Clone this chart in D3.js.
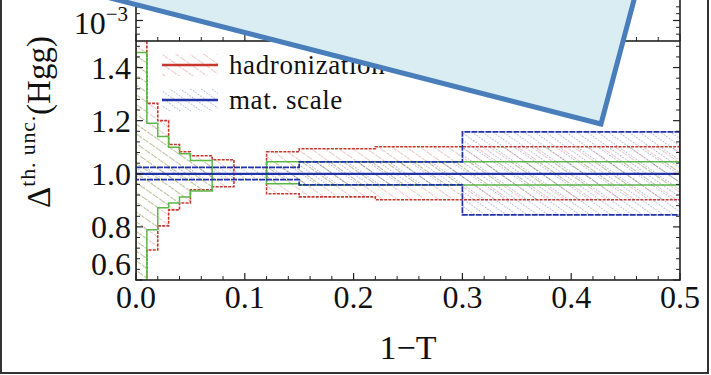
<!DOCTYPE html>
<html><head><meta charset="utf-8">
<script src="https://cdn.jsdelivr.net/npm/d3@7"></script>
<style>
html,body{margin:0;padding:0;background:#fff;}
svg{display:block;}
text{font-family:"Liberation Serif","Times New Roman",serif;fill:#111;}
</style></head>
<body>
<svg id="chart" width="711" height="375"></svg>
<script>
// ---------------- data ----------------
const xEdges = [0, 0.01, 0.02, 0.03, 0.04, 0.05, 0.07, 0.09, 0.12, 0.15, 0.22, 0.30, 0.50];
const hadUpper = [1.600, 1.265, 1.200, 1.110, 1.083, 1.068, 1.053, null, 1.083, 1.094, 1.102, 1.102];
const hadLower = [0.500, 0.713, 0.804, 0.864, 0.890, 0.940, 0.951, null, 0.925, 0.913, 0.902, 0.902];
const profUpper = [1.457, 1.190, 1.140, 1.100, 1.075, 1.050, null, null, 1.045, 1.045, 1.045, 1.045];
const profLower = [0.500, 0.789, 0.872, 0.890, 0.913, 0.935, null, null, 0.962, 0.958, 0.958, 0.958];
const matUpper = [1.024, 1.024, 1.024, 1.024, 1.024, 1.024, 1.024, 1.024, 1.024, 1.045, 1.045, 1.158];
const matLower = [0.978, 0.978, 0.978, 0.978, 0.978, 0.978, 0.978, 0.978, 0.978, 0.958, 0.958, 0.845];
const centralValue = 1.0;
const xTicks = [0, 0.1, 0.2, 0.3, 0.4, 0.5];
const xTickLabels = ["0.0", "0.1", "0.2", "0.3", "0.4", "0.5"];
const yTicks = [0.6, 0.8, 1.0, 1.2, 1.4];
const yTickLabels = ["0.6", "0.8", "1.0", "1.2", "1.4"];
const legendLabels = ["hadronization", "mat. scale"];
const upperTicksMajor = [3];
const upperTicksMinor = [1, 2, 4, 5];

// ---------------- layout ----------------
const svg = d3.select("#chart");
const pLeft = 136, pRight = 680, pTop = 41, pBottom = 280;
const x = d3.scaleLinear().domain([0, 0.5]).range([pLeft, pRight]);
const y = d3.scaleLinear().domain([0.6, 1.5]).range([pBottom, pTop]);
const yUp = d3.scaleLinear().domain([0, 6]).range([pTop, 0]);

const colors = {
  red: "#c8382e", redHatch: "#d98a84",
  green: "#5cb845", greenHatch: "#8cc47a",
  blue: "#2233a8", blueHatch: "#5566c4"
};

const defs = svg.append("defs");
function hatch(id, color, spacing, dash, width) {
  const p = defs.append("pattern").attr("id", id)
    .attr("patternUnits", "userSpaceOnUse")
    .attr("width", spacing).attr("height", spacing)
    .attr("patternTransform", "rotate(-55)");
  p.append("line").attr("x1", 0).attr("y1", 0).attr("x2", 0).attr("y2", spacing)
    .attr("stroke", color).attr("stroke-width", width).attr("stroke-dasharray", dash);
}
hatch("hRed", colors.redHatch, 8, "3,1.5", 1);
hatch("hGreen", colors.greenHatch, 8, "3,1.5", 1);
hatch("hBlue", colors.blueHatch, 6, "1.5,1.5", 1);

defs.append("clipPath").attr("id", "plotClip")
  .append("rect").attr("x", pLeft).attr("y", pTop).attr("width", pRight - pLeft).attr("height", pBottom - pTop);

const g = svg.append("g").attr("clip-path", "url(#plotClip)");

function bandRuns(upper, lower) {
  const runs = [];
  let cur = null;
  for (let i = 0; i < upper.length; i++) {
    if (upper[i] == null) { cur = null; continue; }
    if (!cur) { cur = []; runs.push(cur); }
    cur.push(i);
  }
  return runs.map(run => {
    const pts = [];
    run.forEach(i => { pts.push([xEdges[i], upper[i]]); pts.push([xEdges[i + 1], upper[i]]); });
    run.slice().reverse().forEach(i => { pts.push([xEdges[i + 1], lower[i]]); pts.push([xEdges[i], lower[i]]); });
    return pts;
  });
}
const line = d3.line().x(d => x(d[0])).y(d => y(d[1]));

function drawBand(upper, lower, hatchId, color, dash, sw) {
  const runs = bandRuns(upper, lower);
  g.selectAll(null).data(runs).enter().append("path")
    .attr("d", d => line(d) + "Z")
    .attr("fill", "url(#" + hatchId + ")")
    .attr("stroke", color).attr("stroke-width", sw)
    .attr("stroke-dasharray", dash);
}
drawBand(hadUpper, hadLower, "hRed", colors.red, "3,1.2", 1.6);
drawBand(profUpper, profLower, "hGreen", colors.green, null, 1.5);
drawBand(matUpper, matLower, "hBlue", colors.blue, "6,1", 1.7);

// central line
g.append("line").attr("x1", x(0)).attr("x2", x(0.5)).attr("y1", y(centralValue)).attr("y2", y(centralValue))
  .attr("stroke", colors.blue).attr("stroke-width", 2.2);

// ---------------- axes / frame ----------------
const ax = svg.append("g").attr("stroke", "#222").attr("fill", "none");
ax.append("rect").attr("x", pLeft).attr("y", pTop).attr("width", pRight - pLeft).attr("height", pBottom - pTop)
  .attr("stroke-width", 1.6);
ax.append("line").attr("x1", pLeft).attr("x2", pLeft).attr("y1", -2).attr("y2", pTop).attr("stroke-width", 1.6);
ax.append("line").attr("x1", pRight).attr("x2", pRight).attr("y1", -2).attr("y2", pTop).attr("stroke-width", 1.6);

const xMinor = d3.range(0, 51, 2).map(v => v / 100).filter(v => !xTicks.some(t => Math.abs(t - v) < 1e-9));
xTicks.forEach(t => ax.append("line").attr("x1", x(t)).attr("x2", x(t)).attr("y1", pBottom).attr("y2", pBottom - 7).attr("stroke-width", 1.2));
xMinor.forEach(t => ax.append("line").attr("x1", x(t)).attr("x2", x(t)).attr("y1", pBottom).attr("y2", pBottom - 4).attr("stroke-width", 1));
xTicks.forEach(t => ax.append("line").attr("x1", x(t)).attr("x2", x(t)).attr("y1", pTop).attr("y2", pTop - 7).attr("stroke-width", 1.2));
xMinor.forEach(t => ax.append("line").attr("x1", x(t)).attr("x2", x(t)).attr("y1", pTop).attr("y2", pTop - 4).attr("stroke-width", 1));

const yMinor = d3.range(60, 151, 4).map(v => v / 100).filter(v => !yTicks.some(t => Math.abs(t - v) < 1e-9));
yTicks.forEach(t => {
  ax.append("line").attr("x1", pLeft).attr("x2", pLeft + 7).attr("y1", y(t)).attr("y2", y(t)).attr("stroke-width", 1.2);
  ax.append("line").attr("x1", pRight).attr("x2", pRight - 7).attr("y1", y(t)).attr("y2", y(t)).attr("stroke-width", 1.2);
});
yMinor.forEach(t => {
  ax.append("line").attr("x1", pLeft).attr("x2", pLeft + 4).attr("y1", y(t)).attr("y2", y(t)).attr("stroke-width", 1);
  ax.append("line").attr("x1", pRight).attr("x2", pRight - 4).attr("y1", y(t)).attr("y2", y(t)).attr("stroke-width", 1);
});
upperTicksMajor.forEach(t => {
  ax.append("line").attr("x1", pLeft).attr("x2", pLeft + 7).attr("y1", yUp(t)).attr("y2", yUp(t)).attr("stroke-width", 1.2);
  ax.append("line").attr("x1", pRight).attr("x2", pRight - 7).attr("y1", yUp(t)).attr("y2", yUp(t)).attr("stroke-width", 1.2);
});
upperTicksMinor.forEach(t => {
  ax.append("line").attr("x1", pLeft).attr("x2", pLeft + 4).attr("y1", yUp(t)).attr("y2", yUp(t)).attr("stroke-width", 1);
  ax.append("line").attr("x1", pRight).attr("x2", pRight - 4).attr("y1", yUp(t)).attr("y2", yUp(t)).attr("stroke-width", 1);
});

// tick labels
const fs = 32;
svg.selectAll(null).data(xTicks).enter().append("text")
  .attr("x", d => x(d)).attr("y", 308).attr("text-anchor", "middle")
  .attr("font-size", fs).text((d, i) => xTickLabels[i]);
svg.selectAll(null).data(yTicks).enter().append("text")
  .attr("x", 131).attr("y", d => d === 0.6 ? y(d) - 5 : y(d) + 11).attr("text-anchor", "end")
  .attr("font-size", fs).text((d, i) => yTickLabels[i]);

// upper-panel label 10^-3
const up = svg.append("text").attr("x", 128).attr("y", yUp(3) + 13).attr("text-anchor", "end").attr("font-size", fs);
up.append("tspan").text("10");
up.append("tspan").attr("dy", -13).attr("font-size", 21).text("\u22123");

// axis titles
svg.append("text").attr("x", x(0.25)).attr("y", 359).attr("text-anchor", "middle")
  .attr("font-size", 34).text("1\u2212T");
const yl = svg.append("text").attr("transform", "translate(50,122) rotate(-90)")
  .attr("text-anchor", "middle").attr("font-size", 33);
yl.append("tspan").text("\u0394");
yl.append("tspan").attr("dy", -15).attr("font-size", 22).attr("letter-spacing", 0.8).text("th. unc.");
yl.append("tspan").attr("dy", 15).text("(Hgg)");

// legend
const leg = svg.append("g");
const legItems = [
  {label: legendLabels[0], color: colors.red, hatch: "hRed", yc: 65},
  {label: legendLabels[1], color: colors.blue, hatch: "hBlue", yc: 100}
];
legItems.forEach(it => {
  leg.append("rect").attr("x", 162).attr("y", it.yc - 11).attr("width", 56).attr("height", 22)
    .attr("fill", "url(#" + it.hatch + ")");
  leg.append("line").attr("x1", 162).attr("x2", 218).attr("y1", it.yc).attr("y2", it.yc)
    .attr("stroke", it.color).attr("stroke-width", 2.6);
  leg.append("text").attr("x", 229).attr("y", it.yc + 9).attr("font-size", 27)
    .attr("letter-spacing", 0.6).text(it.label);
});

// callout shape overlaid on the picture
const C = [601, 124];
const uL = [-0.9686, -0.2487], uU = [0.2572, -0.9664];
const pts = [C, [C[0] + 700 * uL[0], C[1] + 700 * uL[1]],
  [C[0] + 700 * uL[0] + 300 * uU[0], C[1] + 700 * uL[1] + 300 * uU[1]],
  [C[0] + 300 * uU[0], C[1] + 300 * uU[1]]];
svg.append("polygon").attr("points", pts.map(p => p.join(",")).join(" "))
  .attr("fill", "#daedf3").attr("stroke", "#4a7ebb").attr("stroke-width", 5)
  .attr("stroke-linejoin", "miter");

// outer border
svg.append("rect").attr("x", 1).attr("y", -5).attr("width", 707).attr("height", 378)
  .attr("fill", "none").attr("stroke", "#333").attr("stroke-width", 2);
</script>
</body></html>
